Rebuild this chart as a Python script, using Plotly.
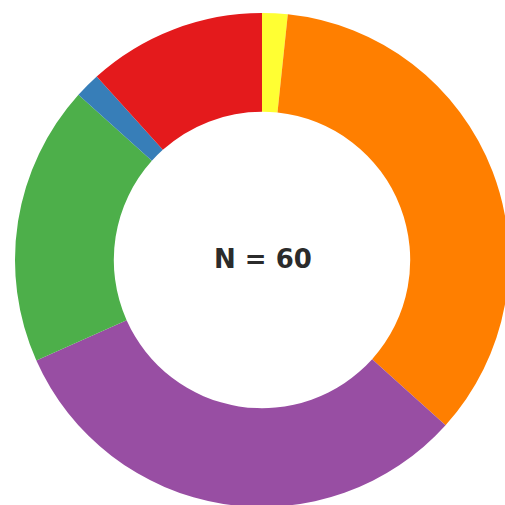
import plotly.graph_objects as go

labels = ["Yellow", "Orange", "Purple", "Green", "Blue", "Red"]
values = [1, 21, 19, 11, 1, 7]
colors = ["#ffff33", "#ff7f00", "#984ea3", "#4daf4a", "#377eb8", "#e41a1c"]
center_text = "N = 60"

W = 510
H = 510
cx, cy, r = 262, 260, 247

fig = go.Figure(go.Pie(
    labels=labels,
    values=values,
    marker=dict(colors=colors, line=dict(width=0)),
    hole=0.6,
    sort=False,
    direction="clockwise",
    rotation=0,
    textinfo="none",
    hoverinfo="none",
    showlegend=False,
    domain=dict(x=[(cx - r) / W, (cx + r) / W], y=[(H - cy - r) / H, (H - cy + r) / H]),
))

fig.add_annotation(
    x=(cx + 1) / W, y=(H - cy + 1) / H, xref="paper", yref="paper",
    text="<b>" + center_text + "</b>", showarrow=False,
    font=dict(family="DejaVu Sans", size=26, color="#2b2b2b"),
)

fig.update_layout(
    width=W, height=H,
    margin=dict(l=0, r=0, t=0, b=0),
    paper_bgcolor="white", plot_bgcolor="white",
)

fig.write_html("out.html", post_script="document.documentElement.style.overflow='hidden';document.body.style.overflow='hidden';document.body.style.margin='0';")
